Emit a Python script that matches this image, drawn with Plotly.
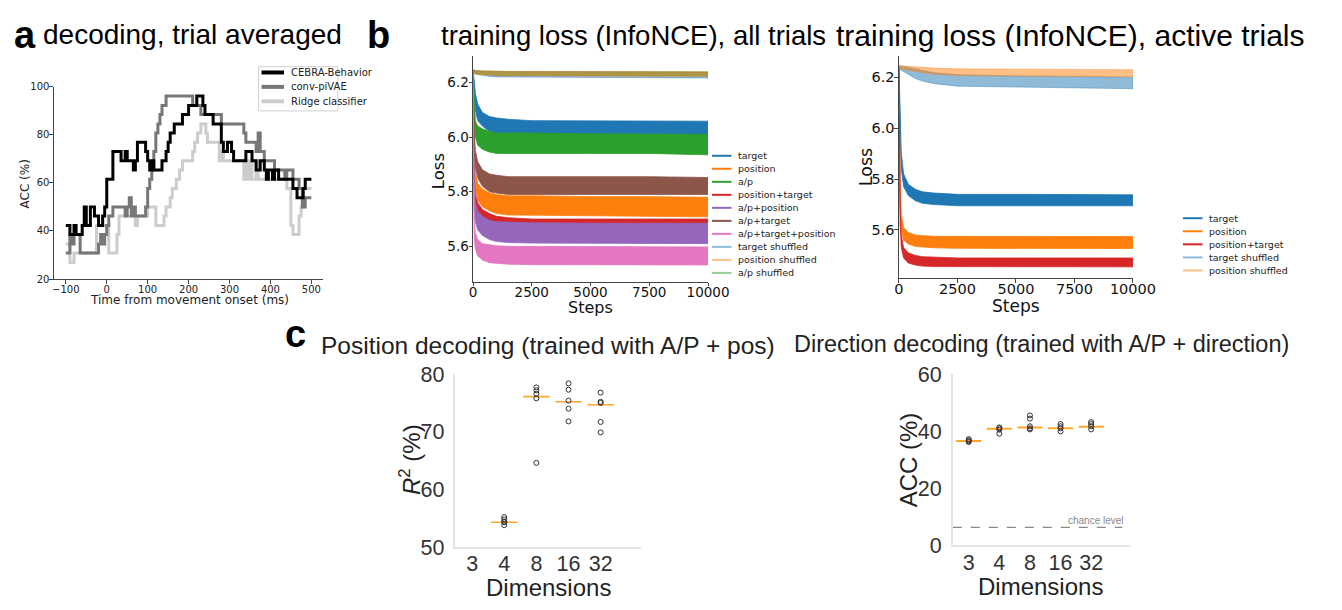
import plotly.graph_objects as go

W, H = 1342, 610


def fx(p):
    return p / W


def fy(p):
    return 1 - p / H


# ---------------- Panel a: decoding, trial averaged ----------------
a_names = ["CEBRA-Behavior", "conv-piVAE", "Ridge classifier"]
a_colors = ["#000000", "#777777", "#cccccc"]

cebra_t = [-100, -90, -80, -75, -60, -55, -50, -40, -30, -20, -10, -5, 0, 15, 35, 45, 50, 65, 70, 75,
           95, 100, 105, 110, 115, 135, 145, 150, 155, 165, 185, 200, 220, 235, 240, 260, 280, 285, 295, 305,
           310, 340, 355, 365, 375, 385, 390, 395, 405, 410, 420, 455, 465, 480, 485, 500]
cebra_acc = [42.3, 38.5, 42.3, 38.5, 42.3, 50.0, 42.3, 50.0, 46.2, 42.3, 46.2, 50.0, 61.5, 73.1, 69.2,
             73.1, 69.2, 65.4, 69.2, 76.9, 73.1, 69.2, 65.4, 69.2, 65.4, 69.2, 73.1, 76.9, 80.8, 84.6,
             88.5, 92.3, 96.2, 92.3, 88.5, 84.6, 76.9, 73.1, 76.9, 73.1, 69.2, 73.1, 69.2, 65.4, 69.2,
             65.4, 61.5, 65.4, 61.5, 65.4, 61.5, 57.7, 53.8, 57.7, 61.5, 61.5]

conv_t = [-100, -90, -85, -80, -65, -20, -15, -10, -5, 0, 5, 15, 45, 50, 55, 60, 65, 70, 95, 100,
          105, 110, 115, 120, 125, 130, 135, 145, 210, 230, 280, 335, 340, 365, 370, 375, 385, 410, 435, 440,
          455, 470, 478, 485, 500]
conv_acc = [30.8, 38.5, 34.6, 38.5, 30.8, 34.6, 38.5, 34.6, 38.5, 42.3, 46.2, 50.0, 46.2, 50.0, 53.8,
            46.2, 50.0, 46.2, 50.0, 57.7, 61.5, 65.4, 73.1, 80.8, 84.6, 88.5, 92.3, 96.2, 92.3, 88.5,
            84.6, 80.8, 76.9, 73.1, 80.8, 73.1, 69.2, 65.4, 61.5, 65.4, 61.5, 57.7, 50.0, 53.8, 53.8]

ridge_t = [-100, -90, -80, -25, 5, 25, 30, 70, 75, 100, 120, 140, 145, 155, 160, 170, 178, 185, 210, 215,
           222, 230, 242, 246, 275, 280, 285, 335, 340, 345, 350, 355, 365, 370, 440, 450, 455, 470, 475, 480,
           500]
ridge_acc = [34.6, 26.9, 30.8, 42.3, 30.8, 38.5, 46.2, 42.3, 46.2, 50.0, 42.3, 46.2, 50.0, 53.8, 57.7,
             61.5, 65.4, 69.2, 73.1, 76.9, 80.8, 84.6, 80.8, 76.9, 69.2, 73.1, 69.2, 61.5, 69.2, 61.5,
             69.2, 61.5, 69.2, 61.5, 57.7, 42.3, 38.5, 46.2, 50.0, 57.7, 57.7]

a_xticks = [-100, 0, 100, 200, 300, 400, 500]
a_yticks = [20, 40, 60, 80, 100]

# ---------------- Panel b: training loss ----------------
steps = [0, 50, 100, 200, 400, 700, 1000, 1500, 2500, 5000, 7500, 10000]

all_names = ["target", "position", "a/p", "position+target", "a/p+position", "a/p+target",
             "a/p+target+position", "target shuffled", "position shuffled", "a/p shuffled"]
all_colors = ["#1f77b4", "#ff7f0e", "#2ca02c", "#d62728", "#9467bd", "#8c564b", "#e377c2",
              "rgba(31,119,180,0.5)", "rgba(255,127,14,0.5)", "rgba(44,160,44,0.5)"]
all_draw_order = [0, 1, 2, 3, 4, 5, 6, 7, 9, 8]
all_lo = [
    [6.24, 6.16, 6.10, 6.06, 6.04, 6.02, 6.01, 6.005, 6.0, 6.0, 5.998, 5.995],
    [6.24, 5.87, 5.81, 5.77, 5.745, 5.73, 5.72, 5.715, 5.712, 5.71, 5.71, 5.708],
    [6.24, 6.04, 6.0, 5.97, 5.955, 5.945, 5.94, 5.94, 5.94, 5.94, 5.94, 5.935],
    [6.24, 5.78, 5.73, 5.70, 5.68, 5.665, 5.655, 5.65, 5.645, 5.645, 5.645, 5.645],
    [6.24, 5.74, 5.69, 5.66, 5.64, 5.625, 5.618, 5.614, 5.612, 5.61, 5.61, 5.61],
    [6.24, 5.95, 5.89, 5.85, 5.82, 5.80, 5.795, 5.79, 5.79, 5.79, 5.79, 5.79],
    [6.24, 5.63, 5.59, 5.565, 5.55, 5.54, 5.537, 5.535, 5.533, 5.532, 5.532, 5.532],
    [6.235, 6.232, 6.23, 6.228, 6.225, 6.222, 6.22, 6.218, 6.217, 6.217, 6.217, 6.216],
    [6.235, 6.233, 6.232, 6.23, 6.228, 6.226, 6.225, 6.224, 6.222, 6.222, 6.222, 6.222],
    [6.235, 6.233, 6.232, 6.23, 6.229, 6.227, 6.226, 6.225, 6.224, 6.224, 6.224, 6.224],
]
all_hi = [
    [6.24, 6.21, 6.16, 6.12, 6.09, 6.075, 6.07, 6.065, 6.06, 6.06, 6.06, 6.058],
    [6.24, 5.95, 5.87, 5.83, 5.81, 5.795, 5.79, 5.785, 5.785, 5.782, 5.782, 5.78],
    [6.24, 6.12, 6.06, 6.04, 6.03, 6.02, 6.015, 6.015, 6.015, 6.012, 6.012, 6.01],
    [6.24, 5.85, 5.79, 5.76, 5.735, 5.72, 5.71, 5.705, 5.70, 5.70, 5.70, 5.70],
    [6.24, 5.82, 5.76, 5.73, 5.71, 5.695, 5.69, 5.688, 5.686, 5.685, 5.685, 5.685],
    [6.24, 6.02, 5.95, 5.91, 5.88, 5.865, 5.86, 5.855, 5.855, 5.855, 5.855, 5.852],
    [6.24, 5.70, 5.65, 5.625, 5.61, 5.605, 5.602, 5.60, 5.60, 5.60, 5.60, 5.598],
    [6.245, 6.245, 6.244, 6.243, 6.242, 6.241, 6.24, 6.24, 6.24, 6.24, 6.238, 6.238],
    [6.245, 6.245, 6.244, 6.243, 6.242, 6.241, 6.241, 6.24, 6.24, 6.24, 6.239, 6.239],
    [6.245, 6.244, 6.243, 6.242, 6.241, 6.24, 6.24, 6.239, 6.239, 6.238, 6.238, 6.238],
]

act_names = ["target", "position", "position+target", "target shuffled", "position shuffled"]
act_colors = ["#1f77b4", "#ff7f0e", "#d62728", "rgba(31,119,180,0.5)", "rgba(255,127,14,0.5)"]
act_draw_order = [0, 1, 2, 3, 4]
act_lo = [
    [6.24, 5.98, 5.84, 5.77, 5.735, 5.715, 5.705, 5.70, 5.695, 5.695, 5.695, 5.695],
    [6.24, 5.70, 5.60, 5.56, 5.545, 5.535, 5.532, 5.53, 5.528, 5.528, 5.527, 5.527],
    [6.24, 5.62, 5.53, 5.49, 5.47, 5.462, 5.458, 5.456, 5.455, 5.455, 5.455, 5.455],
    [6.235, 6.232, 6.228, 6.222, 6.21, 6.195, 6.185, 6.175, 6.165, 6.16, 6.158, 6.155],
    [6.235, 6.234, 6.233, 6.23, 6.226, 6.222, 6.218, 6.212, 6.207, 6.205, 6.203, 6.202],
]
act_hi = [
    [6.24, 6.06, 5.90, 5.82, 5.78, 5.76, 5.75, 5.745, 5.74, 5.74, 5.74, 5.738],
    [6.24, 5.78, 5.66, 5.61, 5.59, 5.58, 5.578, 5.575, 5.575, 5.574, 5.574, 5.574],
    [6.24, 5.69, 5.58, 5.53, 5.51, 5.50, 5.495, 5.493, 5.49, 5.49, 5.49, 5.49],
    [6.245, 6.245, 6.244, 6.242, 6.238, 6.232, 6.226, 6.218, 6.21, 6.205, 6.203, 6.2],
    [6.245, 6.245, 6.245, 6.244, 6.243, 6.241, 6.239, 6.236, 6.233, 6.232, 6.23, 6.23],
]

loss_xticks = [0, 2500, 5000, 7500, 10000]
loss_xticktext = ["0", "2500", "5000", "7500", "10000"]
loss_yticks = [5.6, 5.8, 6.0, 6.2]

# ---------------- Panel c: decoding vs dimensions ----------------
dims = ["3", "4", "8", "16", "32"]
pos_r2 = [
    [],
    [55.2, 54.8, 54.4, 54.3, 53.8],
    [77.7, 77.2, 76.6, 75.8, 64.6],
    [78.4, 77.3, 75.4, 74.0, 71.8],
    [76.8, 75.2, 75.0, 71.7, 69.9],
]
pos_median = [None, 54.3, 76.1, 75.2, 74.7]

dir_acc = [
    [37.2, 36.8, 36.4, 36.2],
    [41.3, 41.0, 40.5, 39.1],
    [45.5, 44.4, 41.7, 41.0, 40.6],
    [42.5, 41.7, 41.0, 39.9],
    [43.2, 42.5, 41.7, 40.6],
]
dir_median = [36.5, 40.8, 41.3, 41.0, 41.5]
chance_level = 6.25

fig = go.Figure()

# ---- panel a traces (light first so black on top)
for t, acc, name, col in [(ridge_t, ridge_acc, a_names[2], a_colors[2]),
                          (conv_t, conv_acc, a_names[1], a_colors[1]),
                          (cebra_t, cebra_acc, a_names[0], a_colors[0])]:
    fig.add_trace(go.Scatter(x=t, y=acc, mode="lines", line=dict(color=col, width=3, shape="hv"),
                             name=name, showlegend=False, xaxis="x", yaxis="y"))


# ---- panel b traces (noisy loss curves drawn as min/max envelopes)
def add_bands(names, colors, los, his, order, xa, ya):
    for k in order:
        col = colors[k]
        fig.add_trace(go.Scatter(x=steps + steps[::-1], y=his[k] + los[k][::-1], mode="lines",
                                 fill="toself", fillcolor=col, line=dict(color=col, width=0.8),
                                 name=names[k], showlegend=False, xaxis=xa, yaxis=ya))


add_bands(all_names, all_colors, all_lo, all_hi, all_draw_order, "x2", "y2")
add_bands(act_names, act_colors, act_lo, act_hi, act_draw_order, "x3", "y3")

# ---- panel c traces
half = 0.41
for i, d in enumerate(dims):
    if pos_median[i] is not None:
        fig.add_trace(go.Scatter(x=[i - half, i + half], y=[pos_median[i]] * 2, mode="lines",
                                 line=dict(color="#ffa62b", width=1.6), showlegend=False,
                                 xaxis="x4", yaxis="y4"))
    if pos_r2[i]:
        fig.add_trace(go.Scatter(x=[i] * len(pos_r2[i]), y=pos_r2[i], mode="markers",
                                 marker=dict(symbol="circle-open", size=5, color="#333333",
                                             line=dict(width=1)),
                                 showlegend=False, xaxis="x4", yaxis="y4"))
    fig.add_trace(go.Scatter(x=[i - half, i + half], y=[dir_median[i]] * 2, mode="lines",
                             line=dict(color="#ffa62b", width=2), showlegend=False,
                             xaxis="x5", yaxis="y5"))
    fig.add_trace(go.Scatter(x=[i] * len(dir_acc[i]), y=dir_acc[i], mode="markers",
                             marker=dict(symbol="circle-open", size=5, color="#333333",
                                         line=dict(width=1)),
                             showlegend=False, xaxis="x5", yaxis="y5"))

fig.add_trace(go.Scatter(x=[-0.52, 5.02], y=[chance_level, chance_level], mode="lines",
                         line=dict(color="#888888", width=1.2, dash="dash"), showlegend=False,
                         xaxis="x5", yaxis="y5"))

# ---------------- axes ----------------
DV = "DejaVu Sans"
AR = "Liberation Sans, Arial"

mpl_axis = dict(showline=True, linecolor="#444444", linewidth=1, ticks="outside", ticklen=3.5,
                tickcolor="#444444", showgrid=False, zeroline=False, mirror=False)
sns_common = dict(showline=True, linecolor="#e4e4e4", linewidth=1.5, ticks="", showgrid=False,
                  zeroline=False, mirror=False, tickfont=dict(family=AR, size=21.5, color="#333333"))

fig.update_layout(
    width=W, height=H, margin=dict(l=0, r=0, t=0, b=0),
    paper_bgcolor="white", plot_bgcolor="white", showlegend=False,
    xaxis=dict(domain=[fx(50), fx(325)], anchor="y", range=[-129, 529], tickvals=a_xticks,
               ticklabelstandoff=-3, tickfont=dict(family=DV, size=10, color="#222"), **mpl_axis),
    yaxis=dict(domain=[fy(279), fy(79)], anchor="x", range=[20, 100], tickvals=a_yticks,
               ticklabelstandoff=-2, tickfont=dict(family=DV, size=10, color="#222"), **mpl_axis),
    xaxis2=dict(domain=[fx(478), fx(718)], anchor="y2", range=[0, 10000], tickvals=loss_xticks,
                ticktext=loss_xticktext, ticklabelstandoff=-6,
                tickfont=dict(family=DV, size=13.5, color="#111"), **mpl_axis),
    yaxis2=dict(domain=[fy(282), fy(47)], anchor="x2", range=[5.47, 6.296], tickvals=loss_yticks,
                tickformat=".1f", ticklabelstandoff=-3,
                tickfont=dict(family=DV, size=13.5, color="#111"), **mpl_axis),
    xaxis3=dict(domain=[fx(913), fx(1152)], anchor="y3", range=[0, 10000], tickvals=loss_xticks,
                ticktext=loss_xticktext, ticklabelstandoff=-6,
                tickfont=dict(family=DV, size=14.5, color="#111"), **mpl_axis),
    yaxis3=dict(domain=[fy(278), fy(47)], anchor="x3", range=[5.411, 6.283], tickvals=loss_yticks,
                tickformat=".1f", ticklabelstandoff=-3,
                tickfont=dict(family=DV, size=14.5, color="#111"), **mpl_axis),
    xaxis4=dict(domain=[fx(460), fx(650)], anchor="y4", range=[-0.52, 5.27], ticklabelstandoff=-4,
                tickvals=list(range(len(dims))), ticktext=dims, **sns_common),
    yaxis4=dict(domain=[fy(558), fy(378)], anchor="x4", range=[50, 80], tickvals=[50, 60, 70, 80],
                ticklabelstandoff=5, **sns_common),
    xaxis5=dict(domain=[fx(968), fx(1149)], anchor="y5", range=[-0.52, 5.27], ticklabelstandoff=-3,
                tickvals=list(range(len(dims))), ticktext=dims, **sns_common),
    yaxis5=dict(domain=[fy(556), fy(378)], anchor="x5", range=[0, 60], tickvals=[0, 20, 40, 60],
                ticklabelstandoff=5, **sns_common),
)

shapes = []
annotations = []


def text(s, x, y, size, family=AR, color="#000", bold=False, angle=0, xanchor="center"):
    annotations.append(dict(text=("<b>%s</b>" % s) if bold else s, x=fx(x), y=fy(y), xref="paper",
                            yref="paper", showarrow=False, xanchor=xanchor, yanchor="middle",
                            textangle=angle, font=dict(family=family, size=size, color=color)))


# panel labels and titles
text("a", 20, 25, 38, bold=True)
text("decoding, trial averaged", 37, 24, 28, xanchor="left")
text("b", 381, 25, 38, bold=True)
text("training loss (InfoNCE), all trials", 642, 25, 27.5)
text("training loss (InfoNCE), active trials", 1088, 25, 30)
text("c", 297, 336, 38, bold=True)
text("Position decoding (trained with A/P + pos)", 555, 348, 24.5, color="#222")
text("Direction decoding (trained with A/P + direction)", 1059, 347, 23.5, color="#222")

# axis titles
text("Time from movement onset (ms)", 188, 301, 12, family=DV, color="#222")
text("ACC (%)", 20, 180, 12, family=DV, color="#222", angle=-90)
text("Steps", 598, 308.5, 16, family=DV, color="#111")
text("Loss", 443, 167, 16.5, family=DV, color="#111", angle=-90)
text("Steps", 1033, 307, 17, family=DV, color="#111")
text("Loss", 879, 163, 17.5, family=DV, color="#111", angle=-90)
text("Dimensions", 555, 600, 24, color="#222")
text("<i>R</i><sup>2</sup> (%)", 413, 467, 24, color="#222", angle=-90)
text("Dimensions", 1058, 599, 24, color="#222")
text("ACC (%)", 923, 467, 24, color="#222", angle=-90)
text("chance level", 1114, 530, 10, color="#888")

# legend panel a
shapes.append(dict(type="rect", xref="paper", yref="paper", x0=fx(259), x1=fx(340), y0=fy(104),
                   y1=fy(58), line=dict(color="#d0d0d0", width=1), fillcolor="white"))
for k, (name, col) in enumerate(zip(a_names, a_colors)):
    yy = 64 + 15 * k
    shapes.append(dict(type="line", xref="paper", yref="paper", x0=fx(262), x1=fx(285), y0=fy(yy),
                       y1=fy(yy), line=dict(color=col, width=4)))
    text(name, 290, yy, 10, family=DV, color="#222", xanchor="left")

# legend panel b (all trials)
for k, (name, col) in enumerate(zip(all_names, all_colors)):
    yy = 150.7 + 13.55 * k
    shapes.append(dict(type="line", xref="paper", yref="paper", x0=fx(722), x1=fx(742), y0=fy(yy),
                       y1=fy(yy), line=dict(color=col, width=2)))
    text(name, 747, yy, 9.5, family=DV, color="#222", xanchor="left")

# legend panel b (active trials)
for k, (name, col) in enumerate(zip(act_names, act_colors)):
    yy = 215.7 + 13.6 * k
    shapes.append(dict(type="line", xref="paper", yref="paper", x0=fx(1203), x1=fx(1223), y0=fy(yy),
                       y1=fy(yy), line=dict(color=col, width=2)))
    text(name, 1228, yy, 9.5, family=DV, color="#222", xanchor="left")

fig.update_layout(shapes=shapes, annotations=annotations)

fig.write_html("out.html")
